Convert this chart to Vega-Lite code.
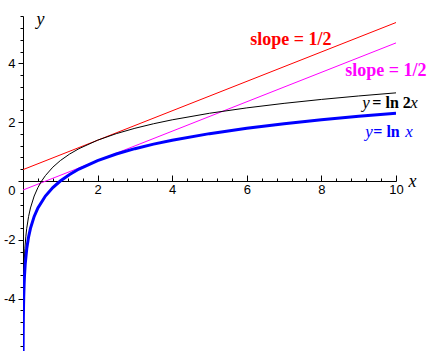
{
  "$schema": "https://vega.github.io/schema/vega-lite/v6.json",
  "width": 373,
  "height": 335,
  "autosize": "none",
  "padding": {"left": 23, "top": 16, "right": 35, "bottom": 0},
  "background": "white",
  "config": {"view": {"stroke": null}},
  "datasets": {
    "curves": [
      {"f": "red", "x": 0, "y": 0.38629},
      {"f": "red", "x": 10, "y": 5.38629},
      {"f": "mag", "x": 0, "y": -0.30685},
      {"f": "mag", "x": 10, "y": 4.69315},
      {"f": "ln2x", "x": 0.0015, "y": -5.80914},
      {"f": "ln2x", "x": 0.002, "y": -5.52146},
      {"f": "ln2x", "x": 0.003, "y": -5.116},
      {"f": "ln2x", "x": 0.005, "y": -4.60517},
      {"f": "ln2x", "x": 0.0075, "y": -4.19971},
      {"f": "ln2x", "x": 0.01, "y": -3.91202},
      {"f": "ln2x", "x": 0.015, "y": -3.50656},
      {"f": "ln2x", "x": 0.02, "y": -3.21888},
      {"f": "ln2x", "x": 0.03, "y": -2.81341},
      {"f": "ln2x", "x": 0.05, "y": -2.30259},
      {"f": "ln2x", "x": 0.075, "y": -1.89712},
      {"f": "ln2x", "x": 0.1, "y": -1.60944},
      {"f": "ln2x", "x": 0.15, "y": -1.20397},
      {"f": "ln2x", "x": 0.2, "y": -0.91629},
      {"f": "ln2x", "x": 0.3, "y": -0.51083},
      {"f": "ln2x", "x": 0.4, "y": -0.22314},
      {"f": "ln2x", "x": 0.5, "y": 0},
      {"f": "ln2x", "x": 0.6, "y": 0.18232},
      {"f": "ln2x", "x": 0.8, "y": 0.47},
      {"f": "ln2x", "x": 1, "y": 0.69315},
      {"f": "ln2x", "x": 1.25, "y": 0.91629},
      {"f": "ln2x", "x": 1.5, "y": 1.09861},
      {"f": "ln2x", "x": 2, "y": 1.38629},
      {"f": "ln2x", "x": 2.5, "y": 1.60944},
      {"f": "ln2x", "x": 3, "y": 1.79176},
      {"f": "ln2x", "x": 3.5, "y": 1.94591},
      {"f": "ln2x", "x": 4, "y": 2.07944},
      {"f": "ln2x", "x": 5, "y": 2.30259},
      {"f": "ln2x", "x": 6, "y": 2.48491},
      {"f": "ln2x", "x": 7, "y": 2.63906},
      {"f": "ln2x", "x": 8, "y": 2.77259},
      {"f": "ln2x", "x": 9, "y": 2.89037},
      {"f": "ln2x", "x": 10, "y": 2.99573},
      {"f": "lnx", "x": 0.003, "y": -5.80914},
      {"f": "lnx", "x": 0.004, "y": -5.52146},
      {"f": "lnx", "x": 0.006, "y": -5.116},
      {"f": "lnx", "x": 0.01, "y": -4.60517},
      {"f": "lnx", "x": 0.015, "y": -4.19971},
      {"f": "lnx", "x": 0.02, "y": -3.91202},
      {"f": "lnx", "x": 0.03, "y": -3.50656},
      {"f": "lnx", "x": 0.04, "y": -3.21888},
      {"f": "lnx", "x": 0.06, "y": -2.81341},
      {"f": "lnx", "x": 0.1, "y": -2.30259},
      {"f": "lnx", "x": 0.15, "y": -1.89712},
      {"f": "lnx", "x": 0.2, "y": -1.60944},
      {"f": "lnx", "x": 0.3, "y": -1.20397},
      {"f": "lnx", "x": 0.4, "y": -0.91629},
      {"f": "lnx", "x": 0.6, "y": -0.51083},
      {"f": "lnx", "x": 0.8, "y": -0.22314},
      {"f": "lnx", "x": 1, "y": 0},
      {"f": "lnx", "x": 1.25, "y": 0.22314},
      {"f": "lnx", "x": 1.5, "y": 0.40547},
      {"f": "lnx", "x": 2, "y": 0.69315},
      {"f": "lnx", "x": 2.5, "y": 0.91629},
      {"f": "lnx", "x": 3, "y": 1.09861},
      {"f": "lnx", "x": 3.5, "y": 1.25276},
      {"f": "lnx", "x": 4, "y": 1.38629},
      {"f": "lnx", "x": 5, "y": 1.60944},
      {"f": "lnx", "x": 6, "y": 1.79176},
      {"f": "lnx", "x": 7, "y": 1.94591},
      {"f": "lnx", "x": 8, "y": 2.07944},
      {"f": "lnx", "x": 9, "y": 2.19722},
      {"f": "lnx", "x": 10, "y": 2.30259}
    ],
    "labels": [
      {"k": "slope", "t": "slope = 1/2", "x": 6.094, "y": 4.623, "c": "#ff0000"},
      {"k": "slope", "t": "slope = 1/2", "x": 8.641, "y": 3.569, "c": "#ff00ff"},
      {"k": "it", "t": "y", "x": 9.097, "y": 2.481, "c": "#000000"},
      {"k": "bd", "t": "= ln 2", "x": 9.365, "y": 2.481, "c": "#000000"},
      {"k": "it", "t": "x", "x": 10.383, "y": 2.481, "c": "#000000"},
      {"k": "it", "t": "y", "x": 9.177, "y": 1.496, "c": "#0000ff"},
      {"k": "bd", "t": "= ln", "x": 9.391, "y": 1.496, "c": "#0000ff"},
      {"k": "it", "t": "x", "x": 10.249, "y": 1.496, "c": "#0000ff"}
    ]
  },
  "encoding": {
    "x": {
      "field": "x", "type": "quantitative",
      "scale": {"domain": [0, 10], "nice": false, "zero": false},
      "axis": {
        "orient": "bottom", "offset": -170, "grid": false,
        "values": [0.4, 0.8, 1.2, 1.6, 2, 2.4, 2.8, 3.2, 3.6, 4, 4.4, 4.8, 5.2, 5.6, 6, 6.4, 6.8, 7.2, 7.6, 8, 8.4, 8.8, 9.2, 9.6, 10],
        "labelExpr": "abs(datum.value - round(datum.value/2)*2) < 0.01 ? '' + round(datum.value) : ''",
        "tickSize": {"condition": {"test": "abs(datum.value - round(datum.value/2)*2) < 0.01", "value": -6}, "value": -3},
        "domainColor": "#000000", "tickColor": "#000000", "domainWidth": 1, "tickWidth": 1,
        "labelFont": "Liberation Sans", "labelFontSize": 13, "labelColor": "#000000",
        "labelOverlap": false, "labelFlush": false, "labelPadding": 8, "labelBaseline": "top",
        "title": "x", "titleX": 389, "titleY": 5, "titleAngle": 0, "titleAlign": "center", "titleBaseline": "alphabetic",
        "titleFont": "Liberation Serif", "titleFontStyle": "italic", "titleFontWeight": "normal", "titleFontSize": 18, "titleColor": "#000000"
      }
    },
    "y": {
      "field": "y", "type": "quantitative",
      "scale": {"domain": [-5.778, 5.608], "nice": false, "zero": false},
      "axis": {
        "orient": "left", "grid": false,
        "values": [-5.6, -5.2, -4.8, -4.4, -4, -3.6, -3.2, -2.8, -2.4, -2, -1.6, -1.2, -0.8, -0.4, 0, 0.4, 0.8, 1.2, 1.6, 2, 2.4, 2.8, 3.2, 3.6, 4, 4.4, 4.8, 5.2, 5.6],
        "labelExpr": "abs(datum.value - round(datum.value/2)*2) < 0.01 ? '' + round(datum.value) : ''",
        "tickSize": {"condition": {"test": "abs(datum.value - round(datum.value/2)*2) < 0.01", "value": 5}, "value": 3},
        "labelBaseline": {"condition": {"test": "abs(datum.value) < 0.01", "value": "top"}, "value": "middle"},
        "labelOffset": {"condition": {"test": "abs(datum.value) < 0.01", "value": 4}, "value": 0},
        "domainColor": "#000000", "tickColor": "#000000", "domainWidth": 1, "tickWidth": 1,
        "labelFont": "Liberation Sans", "labelFontSize": 13, "labelColor": "#000000",
        "labelOverlap": false, "labelFlush": false, "labelPadding": 3,
        "title": "y", "titleX": 17, "titleY": 8, "titleAngle": 0, "titleAlign": "center", "titleBaseline": "alphabetic",
        "titleFont": "Liberation Serif", "titleFontStyle": "italic", "titleFontWeight": "normal", "titleFontSize": 18, "titleColor": "#000000"
      }
    }
  },
  "layer": [
    {"data": {"name": "curves"}, "transform": [{"filter": "datum.f === 'red'"}],
     "mark": {"type": "line", "color": "#ff0000", "strokeWidth": 1, "clip": true}},
    {"data": {"name": "curves"}, "transform": [{"filter": "datum.f === 'mag'"}],
     "mark": {"type": "line", "color": "#ff00ff", "strokeWidth": 1, "clip": true}},
    {"data": {"name": "curves"}, "transform": [{"filter": "datum.f === 'ln2x'"}],
     "mark": {"type": "line", "color": "#000000", "strokeWidth": 1, "clip": true}},
    {"data": {"name": "curves"}, "transform": [{"filter": "datum.f === 'lnx'"}],
     "mark": {"type": "line", "color": "#0000ff", "strokeWidth": 3, "clip": true}},
    {"data": {"name": "labels"}, "transform": [{"filter": "datum.k === 'slope'"}],
     "mark": {"type": "text", "align": "left", "baseline": "alphabetic", "font": "Liberation Serif", "fontWeight": "bold", "fontSize": 18},
     "encoding": {"text": {"field": "t"}, "color": {"field": "c", "type": "nominal", "scale": null}}},
    {"data": {"name": "labels"}, "transform": [{"filter": "datum.k === 'bd'"}],
     "mark": {"type": "text", "align": "left", "baseline": "alphabetic", "font": "Liberation Serif", "fontWeight": "bold", "fontSize": 16},
     "encoding": {"text": {"field": "t"}, "color": {"field": "c", "type": "nominal", "scale": null}}},
    {"data": {"name": "labels"}, "transform": [{"filter": "datum.k === 'it'"}],
     "mark": {"type": "text", "align": "left", "baseline": "alphabetic", "font": "Liberation Serif", "fontStyle": "italic", "fontSize": 17},
     "encoding": {"text": {"field": "t"}, "color": {"field": "c", "type": "nominal", "scale": null}}}
  ]
}
